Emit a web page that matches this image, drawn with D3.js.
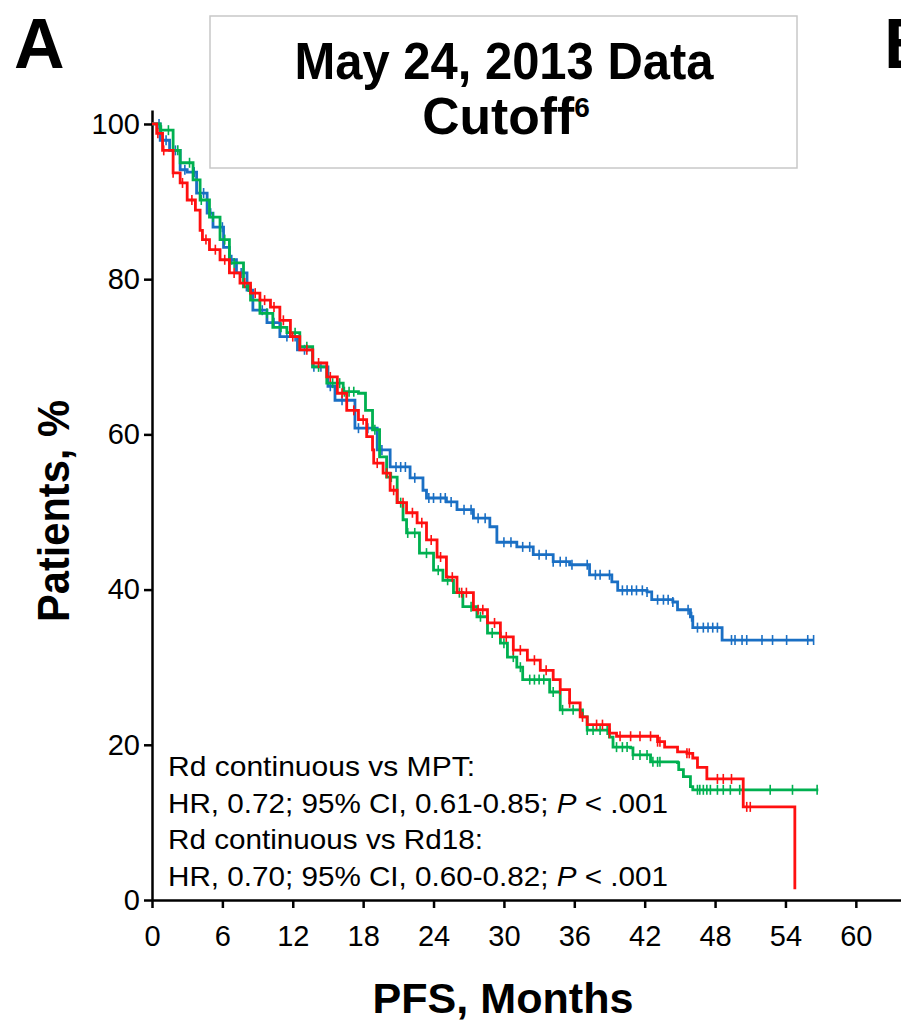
<!DOCTYPE html>
<html lang="en">
<head>
<meta charset="UTF-8">
<title>PFS, May 24, 2013 Data Cutoff</title>
<script src="https://cdn.jsdelivr.net/npm/d3@7"></script>
<style>
  body { margin: 0; background: #fff; }
  text { font-family: Arial, "Liberation Sans", sans-serif; fill: #000; }
</style>
</head>
<body>
<script>
const width = 901;
const height = 1025;

// tick labels
const xTicks = [0, 6, 12, 18, 24, 30, 36, 42, 48, 54, 60];
const yTicks = [0, 20, 40, 60, 80, 100];

// Kaplan-Meier curves: [months, % patients]
const rdContinuous = [[0,100],[0.7,97.9],[1.5,96.6],[2.4,94.1],[3.0,93.8],[3.8,91.1],[4.7,88.5],[5.2,86.7],[6.1,84.1],[6.6,82.5],[7.2,80.8],[8.1,78.6],[8.6,76.0],[9.8,74.4],[10.9,72.6],[12.4,70.9],[13.7,68.7],[15.0,66.2],[15.6,64.4],[17.3,60.8],[19.2,58.0],[20.3,55.8],[22.0,54.4],[23.1,52.8],[23.4,51.8],[25.1,51.3],[26.0,50.3],[27.4,49.2],[28.8,48.1],[29.4,46.1],[31.1,45.5],[32.5,44.5],[34.2,43.6],[35.6,43.2],[37.3,41.9],[39.2,41.0],[39.7,39.9],[42.2,39.7],[42.6,38.7],[44.4,38.4],[44.8,37.4],[45.9,36.5],[46.1,35.1],[48.4,35.1],[48.6,33.5],[56.4,33.5]];
const rd18 = [[0,100],[0.4,98.8],[0.9,96.6],[1.8,93.7],[2.4,92.4],[3.0,90.2],[3.7,88.9],[4.1,86.3],[4.3,85.1],[4.9,83.8],[5.8,82.5],[6.6,80.8],[7.5,79.5],[8.4,78.2],[9.2,77.3],[10.1,76.4],[10.9,74.7],[11.8,72.6],[12.6,70.9],[13.7,69.2],[14.9,67.4],[15.8,65.3],[16.6,63.1],[17.6,61.9],[18.3,59.7],[18.8,58.0],[18.9,56.3],[19.7,55.0],[20.3,52.8],[20.9,51.2],[21.7,49.9],[22.6,48.6],[23.4,46.4],[24.3,44.2],[25.1,41.6],[26.0,39.6],[27.4,37.4],[28.6,35.7],[29.7,33.9],[30.8,32.2],[32.0,30.9],[33.1,29.6],[34.2,28.4],[34.8,27.1],[35.6,25.4],[36.5,23.6],[37.1,22.6],[39.0,21.5],[39.6,21.1],[42.7,21.1],[43.1,20.4],[43.7,19.7],[44.8,19.1],[45.6,18.9],[46.1,18.3],[46.5,17.1],[47.1,17.1],[47.3,15.6],[50.3,15.6],[50.4,12.0],[54.8,12.0],[54.8,1.4]];
const mpt = [[0,100],[0.7,99.2],[1.8,96.6],[2.4,95.0],[3.5,92.8],[4.1,90.2],[4.9,88.0],[5.8,85.1],[6.6,82.1],[7.8,79.0],[8.4,77.3],[9.2,75.6],[10.3,73.8],[11.5,73.1],[12.6,71.3],[13.7,68.7],[14.9,66.6],[16.3,65.5],[17.6,65.3],[18.2,63.1],[18.8,60.6],[19.4,57.1],[20.0,54.5],[20.9,51.2],[21.4,49.0],[21.7,47.3],[22.8,44.7],[24.0,42.5],[24.8,41.2],[25.7,39.6],[26.5,37.8],[27.7,36.5],[28.6,34.4],[29.7,33.1],[30.3,31.3],[31.1,30.0],[31.6,28.4],[33.9,26.8],[34.8,24.5],[36.7,23.6],[37.1,21.9],[39.0,21.0],[39.3,19.7],[40.8,19.6],[41.0,18.7],[42.5,17.8],[44.8,17.7],[44.9,16.8],[45.3,15.9],[45.9,14.6],[46.1,14.2],[56.8,14.2]];

// censored observations (months)
const rdContinuousCensor = [0.6,1.2,2.0,2.8,3.6,4.4,5.0,6.0,6.8,7.6,8.4,9.4,10.4,11.5,12.2,13.0,13.8,14.4,15.2,16.2,17.6,18.4,19.6,20.8,21.2,21.6,22.4,23.6,24.0,24.6,25.0,25.5,26.6,27.2,27.8,28.4,30.0,30.6,31.6,32.2,33.0,33.6,34.2,34.8,35.3,35.8,37.1,37.8,38.2,39.0,40.1,40.5,40.9,41.3,41.8,42.2,43.1,43.6,44.0,44.4,45.7,46.0,46.5,47.0,47.4,47.8,48.2,49.4,49.7,50.3,50.7,52.0,52.9,54.1,55.9,56.4];
const rd18Censor = [0.5,1.0,1.8,2.6,3.4,4.6,5.4,6.2,7.0,7.9,8.8,9.6,10.4,11.2,12.0,13.2,14.2,15.2,16.2,17.2,18.0,19.2,20.0,20.6,21.4,22.2,23.0,23.8,24.6,25.6,26.4,26.8,27.8,28.2,29.2,30.2,30.8,31.4,32.6,33.6,34.8,35.6,36.7,37.9,38.4,39.0,39.9,40.8,41.6,42.5,43.1,43.3,45.6,45.8,48.2,48.7,49.4,50.7,51.0];
const mptCensor = [0.8,1.4,2.2,3.2,4.2,5.2,6.2,7.0,8.2,9.8,11.0,12.2,13.2,14.2,15.4,16.0,16.4,16.8,17.2,19.0,20.4,21.2,21.8,22.4,23.4,24.4,25.2,26.2,27.2,28.0,29.0,30.0,30.8,31.4,32.2,32.6,33.0,33.4,34.2,35.0,35.9,36.5,37.1,37.6,38.2,38.8,39.6,40.1,40.5,41.0,41.6,42.2,42.7,43.1,43.3,46.5,46.7,47.0,47.3,47.6,48.2,48.7,49.3,50.1,52.7,54.6,56.7];

const series = [
    { name: "Rd continuous", data: rdContinuous, censor: rdContinuousCensor, color: "#1a6fc4" },
    { name: "MPT", data: mpt, censor: mptCensor, color: "#00b050" },
    { name: "Rd18", data: rd18, censor: rd18Censor, color: "#ff1010" }
];

const svg = d3.select("body")
    .append("svg")
    .attr("width", width)
    .attr("height", height);

const x = d3.scaleLinear().domain([0, 63.85]).range([152, 901]);
const y = d3.scaleLinear().domain([0, 101.8]).range([900, 110]);

// panel letters (B is cut by the right edge, as in the source figure)
svg.append("text")
    .attr("x", 14).attr("y", 68)
    .style("font-size", "70px").style("font-weight", "bold")
    .text("A");
svg.append("text")
    .attr("x", 884).attr("y", 68)
    .style("font-size", "70px").style("font-weight", "bold")
    .text("B");

// title box
svg.append("rect")
    .attr("x", 210).attr("y", 16)
    .attr("width", 587).attr("height", 152)
    .attr("fill", "none")
    .attr("stroke", "#c8c8c8")
    .attr("stroke-width", 1.5);

svg.append("text")
    .attr("x", 504).attr("y", 79)
    .attr("text-anchor", "middle")
    .attr("textLength", 419).attr("lengthAdjust", "spacingAndGlyphs")
    .style("font-size", "52px").style("font-weight", "bold")
    .text("May 24, 2013 Data");

const t2 = svg.append("text")
    .attr("x", 506).attr("y", 134)
    .attr("text-anchor", "middle")
    .style("font-size", "52px").style("font-weight", "bold");
t2.append("tspan").attr("textLength", 152).attr("lengthAdjust", "spacingAndGlyphs").text("Cutoff");
t2.append("tspan").attr("dy", -17).style("font-size", "28px").text("6");

// axes
const xAxis = svg.append("g")
    .attr("transform", "translate(0,900)")
    .call(d3.axisBottom(x).tickValues(xTicks).tickSize(8).tickSizeOuter(0).tickPadding(17));

const yAxis = svg.append("g")
    .attr("transform", "translate(152,0)")
    .call(d3.axisLeft(y).tickValues(yTicks).tickSize(8).tickSizeOuter(0).tickPadding(4));

[xAxis, yAxis].forEach(g => {
    g.selectAll("path, line").attr("stroke", "#000").attr("stroke-width", 2.5);
    g.selectAll("text").style("font-size", "29px").attr("fill", "#000")
        .style("font-family", "Arial, 'Liberation Sans', sans-serif");
});

// axis titles
svg.append("text")
    .attr("transform", "translate(69,511) rotate(-90)")
    .attr("text-anchor", "middle")
    .attr("textLength", 222).attr("lengthAdjust", "spacingAndGlyphs")
    .style("font-size", "44px").style("font-weight", "bold")
    .text("Patients,  %");

svg.append("text")
    .attr("x", 503).attr("y", 1013)
    .attr("text-anchor", "middle")
    .attr("textLength", 261).attr("lengthAdjust", "spacingAndGlyphs")
    .style("font-size", "43px").style("font-weight", "bold")
    .text("PFS, Months");

// curves
const line = d3.line()
    .x(d => x(d[0]))
    .y(d => y(d[1]))
    .curve(d3.curveStepAfter);

const bis = d3.bisector(d => d[0]).right;

series.forEach(s => {
    const g = svg.append("g");
    g.append("path")
        .datum(s.data)
        .attr("d", line)
        .attr("fill", "none")
        .attr("stroke", s.color)
        .attr("stroke-width", 2.8);

    g.selectAll("line")
        .data(s.censor)
        .enter()
        .append("line")
        .attr("x1", d => x(d))
        .attr("x2", d => x(d))
        .attr("y1", d => y(s.data[Math.max(0, bis(s.data, d) - 1)][1]) - 5)
        .attr("y2", d => y(s.data[Math.max(0, bis(s.data, d) - 1)][1]) + 5)
        .attr("stroke", s.color)
        .attr("stroke-width", 1.6);
});

// hazard ratio notes
const notes = svg.append("g").style("font-size", "28px");
notes.append("text").attr("x", 168).attr("y", 776)
    .attr("textLength", 307).attr("lengthAdjust", "spacingAndGlyphs")
    .text("Rd continuous vs MPT:");
const n2 = notes.append("text").attr("x", 168).attr("y", 813)
    .attr("textLength", 500).attr("lengthAdjust", "spacingAndGlyphs");
n2.append("tspan").text("HR, 0.72; 95% CI, 0.61-0.85; ");
n2.append("tspan").style("font-style", "italic").text("P");
n2.append("tspan").text(" <  .001");
notes.append("text").attr("x", 168).attr("y", 849)
    .attr("textLength", 315).attr("lengthAdjust", "spacingAndGlyphs")
    .text("Rd continuous vs Rd18:");
const n4 = notes.append("text").attr("x", 168).attr("y", 886)
    .attr("textLength", 500).attr("lengthAdjust", "spacingAndGlyphs");
n4.append("tspan").text("HR, 0.70; 95% CI, 0.60-0.82; ");
n4.append("tspan").style("font-style", "italic").text("P");
n4.append("tspan").text(" <  .001");
</script>
</body>
</html>
